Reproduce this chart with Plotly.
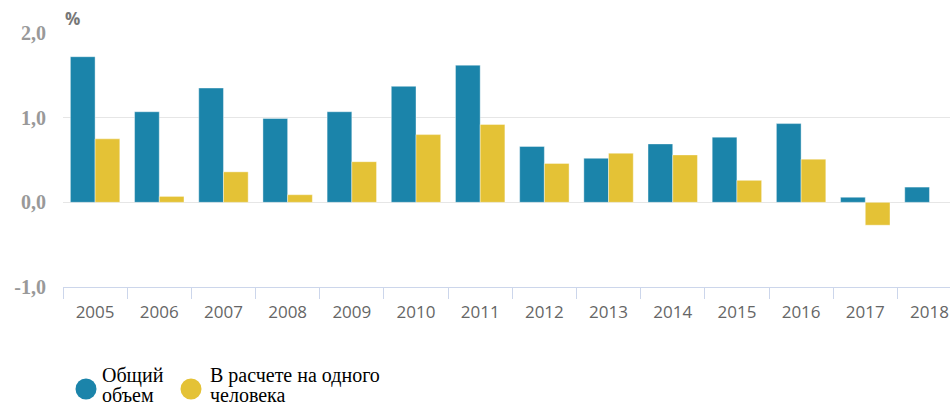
import plotly.graph_objects as go

years = ["2005", "2006", "2007", "2008", "2009", "2010", "2011", "2012", "2013", "2014", "2015", "2016", "2017", "2018"]
total = [1.72, 1.07, 1.35, 0.99, 1.07, 1.37, 1.62, 0.66, 0.52, 0.69, 0.77, 0.93, 0.06, 0.18]
per_capita = [0.75, 0.07, 0.36, 0.09, 0.48, 0.80, 0.92, 0.46, 0.58, 0.56, 0.26, 0.51, -0.27, None]
series_names = ["Общий объем", "В расчете на одного человека"]
legend_lines = [["Общий", "объем"], ["В расчете на одного", "человека"]]
colors = ["#1b84aa", "#e4c236"]
yticks = [-1.0, 0.0, 1.0, 2.0]
yticklabels = ["-1,0", "0,0", "1,0", "2,0"]

W, H = 950, 409
ML, MT, MB = 63, 33, 122
PW, PH = W - ML, H - MT - MB

def px_x(px):
    return (px - ML) / PW

def px_y(py):
    return (H - MB - py) / PH

fig = go.Figure()
for vals, nm, col in zip([total, per_capita], series_names, colors):
    fig.add_trace(go.Bar(x=years, y=vals, name=nm,
                         marker=dict(color=col, line=dict(color="rgba(255,255,255,0.4)", width=1)),
                         showlegend=False))

# manual legend (circle + two text lines per item)
annotations = [dict(text="%", xref="paper", yref="paper", x=0.0, y=1.0, xanchor="left", yanchor="bottom",
                    showarrow=False, yshift=1,
                    font=dict(family="Open Sans", size=17, color="#777777", weight="bold"))]
shapes = []
legend_items = [(86, 100), (191, 208)]
for (cx, tx), lines, col in zip(legend_items, legend_lines, colors):
    shapes.append(dict(type="circle", xref="paper", yref="paper",
                       x0=px_x(cx - 10.5), x1=px_x(cx + 10.5), y0=px_y(389 + 10.5), y1=px_y(389 - 10.5),
                       fillcolor=col, line=dict(width=0)))
    for i, ln in enumerate(lines):
        annotations.append(dict(text=ln, xref="paper", yref="paper", x=px_x(tx), y=px_y(375 + 20 * i),
                                xanchor="left", yanchor="middle", showarrow=False,
                                font=dict(family="Liberation Serif", size=20, color="#000000")))

fig.update_layout(
    width=W, height=H,
    margin=dict(l=ML, r=0, t=MT, b=MB, autoexpand=False),
    paper_bgcolor="white", plot_bgcolor="white",
    barmode="group", bargap=0.23, bargroupgap=0,
    showlegend=False,
    xaxis=dict(range=[-0.5, 13.32], tickson="boundaries", ticks="outside", ticklen=11,
               tickcolor="#ccd6eb", showline=True, linecolor="#ccd6eb", linewidth=1,
               ticklabelstandoff=10, automargin=False,
               showgrid=False, tickfont=dict(family="Open Sans", size=17, color="#666666")),
    yaxis=dict(range=[-1, 2], tickvals=yticks, ticktext=yticklabels, showgrid=True, automargin=False,
               gridcolor="#e6e6e6", gridwidth=1, zeroline=False, ticklabelstandoff=16,
               tickfont=dict(family="Liberation Serif", size=20, color="#999999", weight="bold")),
    annotations=annotations,
    shapes=shapes,
)

fig.write_html("out.html")
